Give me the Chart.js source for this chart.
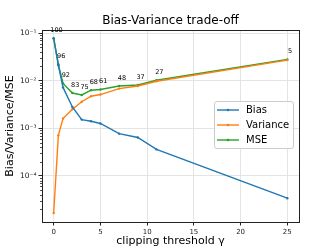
<!DOCTYPE html>
<html>
<head>
<meta charset="utf-8">
<script src="https://cdn.jsdelivr.net/npm/chart.js@4"></script>
<style>
html,body{margin:0;padding:0;background:#fff;}
canvas{display:block;}
</style>
</head>
<body>
<canvas id="c" width="332" height="249"></canvas>
<script>
const gammas = [0, 0.5, 1, 2, 3, 4, 5, 7, 9, 11, 25];
const bias = [0.077, 0.021, 0.0072, 0.0028, 0.00152, 0.0014, 0.00126, 0.00077, 0.00064, 0.00036, 0.000034];
const variance = [0.0000166, 0.00071, 0.0016, 0.0025, 0.0036, 0.0047, 0.0051, 0.0068, 0.0077, 0.0097, 0.027];
const mse = [0.078, 0.022, 0.0087, 0.0055, 0.0050, 0.0063, 0.0065, 0.0077, 0.0081, 0.0102, 0.0279];
const pointLabels = [100, 96, 92, 83, 75, 68, 61, 48, 37, 27, 5];
const xTicks = [0, 5, 10, 15, 20, 25];
const yMajorTicks = [1e-4, 1e-3, 1e-2, 1e-1];
const yTickLabels = ['10\u207B\u2074', '10\u207B\u00B3', '10\u207B\u00B2', '10\u207B\u00B9'];
const seriesNames = ['Bias', 'Variance', 'MSE'];
const colors = ['#1f77b4', '#ff7f0e', '#2ca02c'];

const FONT = "'DejaVu Sans', sans-serif";
const toXY = arr => gammas.map((g, i) => ({x: g, y: arr[i]}));

function isMajor(v) {
  return yMajorTicks.some(m => Math.abs(v - m) / m < 1e-6);
}

const yMin = Math.pow(10, -4.968), yMax = Math.pow(10, -0.937);
const yAllTicks = [];
for (let e = -5; e <= -1; e++) {
  for (let m = 1; m <= 9; m++) {
    const v = m * Math.pow(10, e);
    if (v >= yMin && v <= yMax) yAllTicks.push(v);
  }
}

const decor = {
  id: 'decor',
  afterDatasetsDraw(chart) {
    const ctx = chart.ctx, a = chart.chartArea;
    const xs = chart.scales.x, ys = chart.scales.y;
    ctx.save();
    // minor y ticks
    ctx.strokeStyle = '#222'; ctx.lineWidth = 0.8;
    yAllTicks.forEach(v => {
      if (isMajor(v)) return;
      const py = Math.round(ys.getPixelForValue(v)) + 0.5;
      ctx.beginPath(); ctx.moveTo(a.left - 2, py); ctx.lineTo(a.left, py); ctx.stroke();
    });
    // frame
    ctx.strokeStyle = '#222'; ctx.lineWidth = 1;
    ctx.strokeRect(Math.round(a.left) + 0.5, Math.round(a.top) + 0.5, Math.round(a.right - a.left), Math.round(a.bottom - a.top));
    // point labels
    ctx.fillStyle = '#000';
    ctx.font = '6.5px ' + FONT;
    ctx.textAlign = 'center'; ctx.textBaseline = 'middle';
    gammas.forEach((g, i) => {
      const px = xs.getPixelForValue(g + 0.3);
      const py = ys.getPixelForValue(mse[i]) - 8;
      ctx.fillText(String(pointLabels[i]), px, py);
    });
    // title
    ctx.font = '12px ' + FONT;
    ctx.fillText('Bias-Variance trade-off', (a.left + a.right) / 2, 21);
    // x label
    ctx.font = '11px ' + FONT;
    ctx.fillText('clipping threshold \u03B3', (a.left + a.right) / 2, 241);
    // y label
    ctx.save();
    ctx.translate(10, (a.top + a.bottom) / 2);
    ctx.rotate(-Math.PI / 2);
    ctx.fillText('Bias/Variance/MSE', 0, 0);
    ctx.restore();
    // legend
    const lx = 214.5, ly = 101.5, lw = 79, lh = 47, r = 2.5;
    ctx.beginPath();
    ctx.moveTo(lx + r, ly);
    ctx.arcTo(lx + lw, ly, lx + lw, ly + lh, r);
    ctx.arcTo(lx + lw, ly + lh, lx, ly + lh, r);
    ctx.arcTo(lx, ly + lh, lx, ly, r);
    ctx.arcTo(lx, ly, lx + lw, ly, r);
    ctx.closePath();
    ctx.fillStyle = 'rgba(255,255,255,0.8)'; ctx.fill();
    ctx.strokeStyle = '#cccccc'; ctx.lineWidth = 1; ctx.stroke();
    ctx.font = '10px ' + FONT; ctx.textAlign = 'left';
    seriesNames.forEach((n, i) => {
      const yy = 110 + i * 15;
      ctx.strokeStyle = colors[i]; ctx.lineWidth = 1.4;
      ctx.beginPath(); ctx.moveTo(217, yy); ctx.lineTo(239, yy); ctx.stroke();
      ctx.fillStyle = colors[i];
      ctx.beginPath(); ctx.arc(228, yy, 1.3, 0, Math.PI * 2); ctx.fill();
      ctx.fillStyle = '#000';
      ctx.fillText(n, 246, yy + 0.5);
    });
    ctx.restore();
  }
};

new Chart(document.getElementById('c'), {
  type: 'line',
  data: {
    datasets: [bias, variance, mse].map((arr, i) => ({
      label: seriesNames[i],
      data: toXY(arr),
      borderColor: colors[i],
      backgroundColor: colors[i],
      borderWidth: 1.4,
      pointRadius: 1.2,
      pointHoverRadius: 1.2,
      pointBorderWidth: 0,
      tension: 0,
      fill: false
    }))
  },
  options: {
    responsive: false,
    animation: false,
    events: [],
    layout: {padding: {left: 0, top: 30, right: 33, bottom: 0}},
    plugins: {legend: {display: false}, title: {display: false}, tooltip: {enabled: false}},
    scales: {
      x: {
        type: 'linear',
        min: -1.25, max: 26.25,
        afterBuildTicks: s => { s.ticks = xTicks.map(v => ({value: v})); },
        afterFit: s => { s.height = 27; },
        grid: {color: '#e4e4e4', lineWidth: 1, tickColor: '#222', tickLength: 3.5},
        border: {display: false},
        ticks: {font: {family: FONT, size: 7}, color: '#222', padding: 2, maxRotation: 0, autoSkip: false,
          callback: v => String(v)}
      },
      y: {
        type: 'logarithmic',
        min: yMin, max: yMax,
        afterBuildTicks: s => { s.ticks = yAllTicks.map(v => ({value: v})); },
        afterFit: s => { s.width = 42; },
        grid: {
          color: c => (c.tick && isMajor(c.tick.value)) ? '#e4e4e4' : 'rgba(0,0,0,0)',
          tickColor: c => (c.tick && isMajor(c.tick.value)) ? '#222' : 'rgba(0,0,0,0)',
          lineWidth: 1, tickLength: 3.5
        },
        border: {display: false},
        ticks: {font: {family: FONT, size: 7.5}, color: '#222', padding: 2, autoSkip: false,
          callback: v => { const k = yMajorTicks.findIndex(m => Math.abs(v - m) / m < 1e-6); return k >= 0 ? yTickLabels[k] : ''; }}
      }
    }
  },
  plugins: [decor]
});
</script>
</body>
</html>
